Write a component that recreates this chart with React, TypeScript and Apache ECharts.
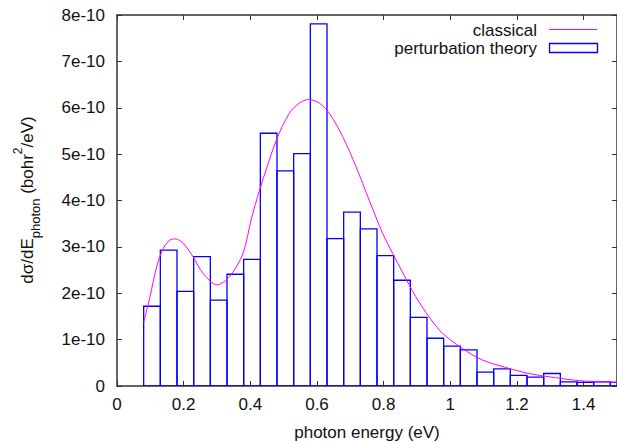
import React, { useEffect, useRef } from 'react';
import * as echarts from 'echarts';

// Histogram (perturbation theory): lower bin edges (eV) and heights (units of 1e-10 bohr^2/eV)
const binStart = [
  0.08, 0.13, 0.18, 0.23, 0.28, 0.33, 0.38, 0.43, 0.48, 0.53,
  0.58, 0.63, 0.68, 0.73, 0.78, 0.83, 0.88, 0.93, 0.98, 1.03,
  1.08, 1.13, 1.18, 1.23, 1.28, 1.33, 1.38, 1.43, 1.48,
];
const BIN_WIDTH = 0.05;
const perturbation = [
  1.72, 2.93, 2.04, 2.79, 1.85, 2.41, 2.73, 5.45, 4.64, 5.01,
  7.81, 3.18, 3.75, 3.39, 2.81, 2.28, 1.48, 1.03, 0.86, 0.78,
  0.30, 0.37, 0.23, 0.19, 0.27, 0.09, 0.08, 0.09, 0.08,
];

// Classical curve (eV, units of 1e-10 bohr^2/eV)
const classicalEnergy = [
  0.08, 0.099, 0.119, 0.139, 0.159, 0.176, 0.198, 0.228, 0.258, 0.3,
  0.338, 0.378, 0.403, 0.428, 0.478, 0.517, 0.547, 0.575, 0.607, 0.637,
  0.677, 0.717, 0.757, 0.797, 0.827, 0.856, 0.896, 0.936, 0.976, 1.036,
  1.096, 1.166, 1.235, 1.315, 1.395, 1.5,
];
const classicalValue = [
  1.37, 1.93, 2.57, 2.97, 3.15, 3.17, 3.08, 2.79, 2.43, 2.18,
  2.36, 2.86, 3.6, 4.23, 5.3, 5.88, 6.1, 6.18, 6.1, 5.88,
  5.38, 4.73, 4.0, 3.29, 2.86, 2.46, 1.93, 1.49, 1.14, 0.81,
  0.56, 0.4, 0.27, 0.18, 0.11, 0.08,
];

const UNIT = 1e-10;
const FONT = 'Liberation Sans, Arial, Helvetica, sans-serif';
const TEXT = '#111';
const AXIS = '#333';

export default function App() {
  const ref = useRef<HTMLDivElement>(null);

  useEffect(() => {
    if (!ref.current) return;
    const chart = echarts.init(ref.current, null, { renderer: 'svg' });

    const histData = binStart.map((s, i) => [s, s + BIN_WIDTH, perturbation[i] * UNIT]);
    const curveData = classicalEnergy.map((e, i) => [e, classicalValue[i] * UNIT]);

    const xCommon = {
      type: 'value' as const,
      min: 0,
      max: 1.5,
      interval: 0.2,
      splitLine: { show: false },
      axisLine: { show: true, onZero: false, lineStyle: { color: AXIS, width: 1.5 } },
      axisTick: { show: true, inside: true, length: 5, lineStyle: { color: AXIS, width: 1 } },
    };
    const yCommon = {
      type: 'value' as const,
      min: 0,
      max: 8 * UNIT,
      interval: UNIT,
      splitLine: { show: false },
      axisLine: { show: true, onZero: false, lineStyle: { color: AXIS, width: 1.5 } },
      axisTick: { show: true, inside: true, length: 5, lineStyle: { color: AXIS, width: 1 } },
    };

    chart.setOption({
      animation: false,
      backgroundColor: '#fff',
      grid: {
        left: 117,
        top: 15,
        width: 500,
        height: 371,
        containLabel: false,
        outerBoundsMode: 'none',
      },
      xAxis: [
        {
          ...xCommon,
          position: 'bottom',
          name: 'photon energy (eV)',
          nameLocation: 'middle',
          nameGap: 38,
          nameTextStyle: { fontFamily: FONT, fontSize: 17, color: TEXT },
          axisLabel: {
            show: true,
            showMaxLabel: false,
            margin: 10,
            fontFamily: FONT,
            fontSize: 17,
            color: TEXT,
            formatter: (v: number) => (Math.abs(v - 1.5) < 1e-9 ? '' : String(Math.round(v * 10) / 10)),
          },
        },
        { ...xCommon, position: 'top', axisLabel: { show: false } },
      ],
      yAxis: [
        {
          ...yCommon,
          position: 'left',
          axisLabel: {
            show: true,
            margin: 12,
            fontFamily: FONT,
            fontSize: 17,
            color: TEXT,
            formatter: (v: number) => {
              const k = Math.round(v / UNIT);
              return k === 0 ? '0' : `${k}e-10`;
            },
          },
        },
        { ...yCommon, position: 'right', axisLabel: { show: false } },
      ],
      series: [
        {
          name: 'classical',
          type: 'line',
          xAxisIndex: 0,
          yAxisIndex: 0,
          data: curveData,
          smooth: 0.3,
          showSymbol: false,
          symbol: 'none',
          lineStyle: { color: '#ff00ff', width: 1 },
          z: 3,
        },
        {
          name: 'perturbation theory',
          type: 'custom',
          xAxisIndex: 0,
          yAxisIndex: 0,
          clip: true,
          data: histData,
          encode: { x: [0, 1], y: 2 },
          renderItem: (params: any, api: any) => {
            const x0 = api.value(0);
            const x1 = api.value(1);
            const v = api.value(2);
            const p0 = api.coord([x0, 0]);
            const p1 = api.coord([x1, v]);
            return {
              type: 'rect',
              shape: { x: p0[0], y: p1[1], width: p1[0] - p0[0], height: p0[1] - p1[1] },
              style: { fill: 'none', stroke: '#0000ff', lineWidth: 1.3 },
            };
          },
          z: 2,
        },
      ],
      graphic: [
        {
          type: 'text',
          x: 27,
          y: 200,
          rotation: Math.PI / 2,
          style: {
            text: '{m|dσ/dE}{sub|photon}{m| (bohr}{sup|2}{m|/eV)}',
            align: 'center',
            verticalAlign: 'middle',
            fill: TEXT,
            rich: {
              m: { fontFamily: FONT, fontSize: 17, lineHeight: 30, verticalAlign: 'middle', fill: TEXT },
              sub: { fontFamily: FONT, fontSize: 13, lineHeight: 14, verticalAlign: 'bottom', fill: TEXT },
              sup: { fontFamily: FONT, fontSize: 12, lineHeight: 18, verticalAlign: 'top', fill: TEXT },
            },
          },
        },
        {
          type: 'text',
          x: 537,
          y: 30,
          style: { text: 'classical', font: `17px ${FONT}`, fill: TEXT, align: 'right', verticalAlign: 'middle' },
        },
        {
          type: 'line',
          shape: { x1: 549, y1: 29.5, x2: 597, y2: 29.5 },
          style: { stroke: '#ff00ff', lineWidth: 1 },
        },
        {
          type: 'text',
          x: 537,
          y: 48,
          style: { text: 'perturbation theory', font: `17px ${FONT}`, fill: TEXT, align: 'right', verticalAlign: 'middle' },
        },
        {
          type: 'rect',
          shape: { x: 549.5, y: 43.5, width: 48, height: 9 },
          style: { fill: 'none', stroke: '#0000ff', lineWidth: 1.3 },
        },
      ],
    });

    return () => chart.dispose();
  }, []);

  return (
    <div
      ref={ref}
      style={{ position: 'fixed', left: 0, top: 0, width: 617, height: 441, background: '#fff' }}
    />
  );
}
